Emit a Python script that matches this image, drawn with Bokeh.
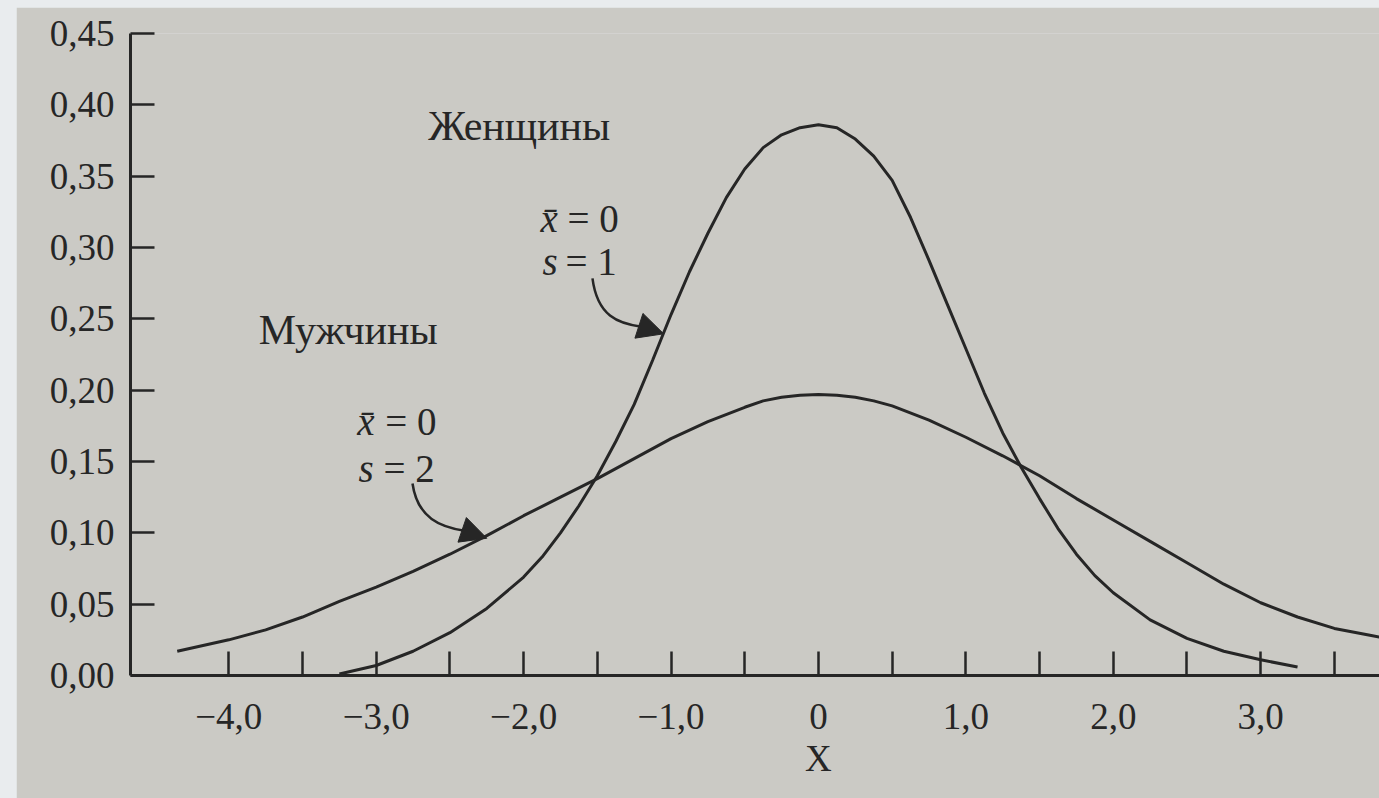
from bokeh.plotting import figure
from bokeh.models import (Range1d, FixedTicker, CustomJSTickFormatter, Arrow, NormalHead,
                          LinearAxis)
from bokeh.core.properties import value
from bokeh.embed import file_html
from bokeh.resources import INLINE

# ---- data ----
women_x = [-3.25, -3.0, -2.75, -2.5, -2.25, -2.0, -1.875, -1.75, -1.625, -1.5, -1.375, -1.25,
           -1.125, -1.0, -0.875, -0.75, -0.625, -0.5, -0.375, -0.25, -0.125, 0.0, 0.125, 0.25,
           0.375, 0.5, 0.625, 0.75, 0.875, 1.0, 1.125, 1.25, 1.375, 1.5, 1.625, 1.75, 1.875,
           2.0, 2.25, 2.5, 2.75, 3.0, 3.25]
women_y = [0.001, 0.007, 0.017, 0.030, 0.047, 0.069, 0.083, 0.100, 0.119, 0.140, 0.164, 0.190,
           0.221, 0.253, 0.283, 0.310, 0.335, 0.355, 0.370, 0.379, 0.384, 0.386, 0.384, 0.376,
           0.364, 0.347, 0.321, 0.291, 0.260, 0.229, 0.198, 0.170, 0.146, 0.124, 0.103, 0.085,
           0.070, 0.058, 0.039, 0.026, 0.017, 0.011, 0.006]

men_x = [-4.35, -4.0, -3.75, -3.5, -3.25, -3.0, -2.75, -2.5, -2.25, -2.0, -1.75, -1.5, -1.25,
         -1.0, -0.75, -0.5, -0.375, -0.25, -0.125, 0.0, 0.125, 0.25, 0.375, 0.5, 0.75, 1.0,
         1.25, 1.5, 1.75, 2.0, 2.25, 2.5, 2.75, 3.0, 3.25, 3.5, 3.75, 3.9]
men_y = [0.017, 0.025, 0.032, 0.041, 0.052, 0.062, 0.073, 0.085, 0.098, 0.112, 0.125, 0.138,
         0.152, 0.166, 0.178, 0.188, 0.1925, 0.195, 0.1965, 0.197, 0.1965, 0.195, 0.1925,
         0.189, 0.179, 0.167, 0.154, 0.140, 0.124, 0.109, 0.094, 0.079, 0.064, 0.051, 0.041,
         0.033, 0.028, 0.025]

x_ticks = [-4.0, -3.5, -3.0, -2.5, -2.0, -1.5, -1.0, -0.5, 0.0, 0.5, 1.0, 1.5, 2.0, 2.5, 3.0, 3.5]
y_ticks = [0.00, 0.05, 0.10, 0.15, 0.20, 0.25, 0.30, 0.35, 0.40, 0.45]
x_title = "X"

group_labels = ["Женщины", "Мужчины"]
mean_labels = ["x\u0304", "x\u0304"]
mean_values = ["= 0", "= 0"]
sd_labels = ["s", "s"]
sd_values = ["= 1", "= 2"]

# ---- styles ----
PAPER = "#cbcac5"
INK = "#262626"
FONT = "Liberation Serif"

p = figure(width=1363, height=791,
           x_range=Range1d(-4.667, 3.806), y_range=Range1d(0, 0.45),
           output_backend="svg", toolbar_location=None,
           min_border_left=114, min_border_right=0, min_border_top=26, min_border_bottom=123,
           background_fill_color=PAPER, border_fill_color=PAPER)
p.outline_line_color = None
p.grid.visible = False

# axes
for ax in (p.xaxis[0], p.yaxis[0]):
    ax.axis_line_color = INK
    ax.axis_line_width = 3
    ax.major_tick_line_color = INK
    ax.major_tick_line_width = 2.5
    ax.major_tick_in = 24
    ax.major_tick_out = 0
    ax.minor_tick_line_color = None
    ax.major_label_text_font = FONT
    ax.major_label_text_font_size = "37px"
    ax.major_label_text_color = INK

p.xaxis.ticker = FixedTicker(ticks=x_ticks)
p.xaxis.formatter = CustomJSTickFormatter(code="""
    if (Math.abs(tick) < 1e-9) return "0";
    if (Math.abs(tick - Math.round(tick)) > 1e-6) return "";
    return (tick < 0 ? "\\u2212" : "") + Math.abs(tick).toFixed(1).replace(".", ",");
""")
p.xaxis.major_label_standoff = 28

p.yaxis.ticker = FixedTicker(ticks=y_ticks)
p.yaxis.formatter = CustomJSTickFormatter(code="""
    return tick.toFixed(2).replace(".", ",");
""")
p.yaxis.major_label_standoff = 16

# axis title "X" placed under zero via a second, line-less axis
title_axis = LinearAxis(ticker=FixedTicker(ticks=[0.0]),
                        formatter=CustomJSTickFormatter(args=dict(t=x_title), code="return t;"),
                        axis_line_color=None, major_tick_line_color=None,
                        minor_tick_line_color=None, major_label_standoff=0,
                        major_label_text_font=FONT, major_label_text_font_size="37px",
                        major_label_text_color=INK)
p.add_layout(title_axis, "below")

# curves
p.line(women_x, women_y, line_color=INK, line_width=3)
p.line(men_x, men_y, line_color=INK, line_width=3)

# group titles
p.text(x=[-2.03, -3.19], y=[0.385, 0.2425], text=group_labels,
       text_font=value(FONT), text_font_size="42px", text_color=INK,
       text_align="center", text_baseline="middle")

# parameter annotations
p.text(x=[-1.886, -3.128], y=[0.320, 0.178], text=mean_labels,
       text_font=value(FONT), text_font_style="italic", text_font_size="39px",
       text_color=INK, text_align="left", text_baseline="middle")
p.text(x=[-1.703, -2.938], y=[0.320, 0.178], text=mean_values,
       text_font=value(FONT), text_font_size="39px",
       text_color=INK, text_align="left", text_baseline="middle")
p.text(x=[-1.872, -3.12], y=[0.290, 0.145], text=sd_labels,
       text_font=value(FONT), text_font_style="italic", text_font_size="39px",
       text_color=INK, text_align="left", text_baseline="middle")
p.text(x=[-1.716, -2.951], y=[0.290, 0.145], text=sd_values,
       text_font=value(FONT), text_font_size="39px",
       text_color=INK, text_align="left", text_baseline="middle")

# curved arrows
p.bezier(x0=[-1.533, -2.754], y0=[0.2783, 0.1346],
         x1=[-1.20, -2.40], y1=[0.2445, 0.1015],
         cx0=[-1.50, -2.72], cy0=[0.252, 0.110],
         cx1=[-1.36, -2.56], cy1=[0.2465, 0.104],
         line_color=INK, line_width=2.5)
for xs, ys, xe, ye in [(-1.22, 0.2452, -1.05, 0.2395), (-2.42, 0.1022, -2.25, 0.0962)]:
    p.add_layout(Arrow(end=NormalHead(size=26, fill_color=INK, line_color=INK, line_width=1),
                       x_start=xs, y_start=ys, x_end=xe, y_end=ye,
                       line_color=INK, line_width=2.5))

html = file_html(p, INLINE)
html = html.replace("<head>",
                    "<head><style>body{background:#e9ecee; padding:7px 0 0 16px !important;}</style>", 1)
open("out.html", "w").write(html)
